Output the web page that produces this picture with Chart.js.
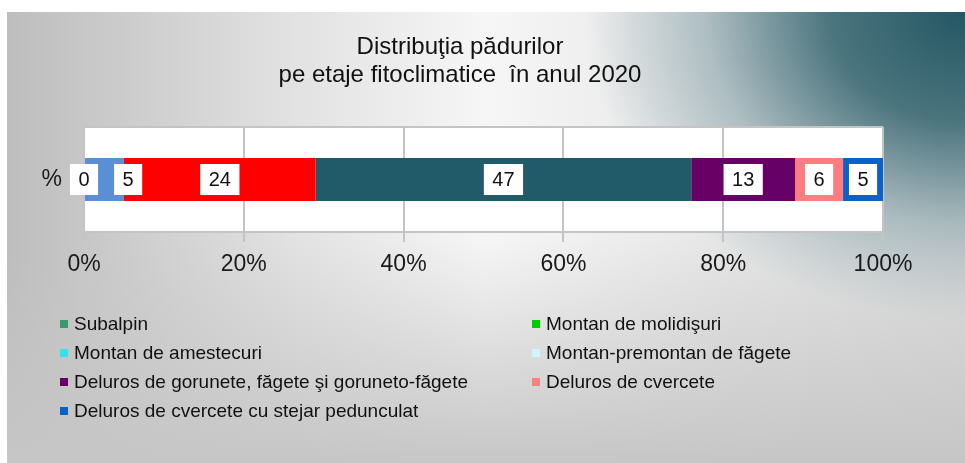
<!DOCTYPE html>
<html lang="ro">
<head>
<meta charset="utf-8">
<title>Distribuţia pădurilor</title>
<script src="https://cdn.jsdelivr.net/npm/chart.js@4.4.1/dist/chart.umd.min.js"></script>
<style>
  html, body { margin: 0; padding: 0; background: #fff; }
  #wrap { position: relative; width: 965px; height: 463px; overflow: hidden; }
  #bg {
    position: absolute; left: 7px; top: 12px; right: 0; bottom: 0;
    background:
      linear-gradient(to bottom, rgba(198,198,198,0) 0%, rgba(198,198,198,0) 50%, rgba(198,198,198,1) 100%),
      radial-gradient(ellipse 380px 310px at 100% 0%, rgba(36,87,100,1) 0%, rgba(66,110,120,0.95) 35%, rgba(135,162,170,0.6) 68%, rgba(235,235,235,0) 100%),
      linear-gradient(to right, #bdbdbd 0%, #e2e2e2 30%, #f6f6f6 50%, #e6e6e6 75%, #dcdcdc 100%);
  }
  #chart { position: absolute; left: 0; top: 0; }
  #legend {
    position: absolute; left: 60px; top: 309px;
    display: grid; grid-template-columns: 472px 400px; grid-auto-rows: 29px;
    font: 19px "Liberation Sans", Arial, sans-serif; color: #111;
  }
  .item { display: flex; align-items: center; white-space: nowrap; }
  .box { width: 8px; height: 8px; margin-right: 6px; flex: none; }
</style>
</head>
<body>
<div id="wrap">
  <div id="bg"></div>
  <canvas id="chart" width="965" height="463"></canvas>
  <div id="legend"></div>
</div>
<script>
// date (procente, anul 2020)
const categories = ['%'];
const seriesNames = [
  'Subalpin',
  'Montan de molidişuri',
  'Montan de amestecuri',
  'Montan-premontan de făgete',
  'Deluros de gorunete, făgete şi goruneto-făgete',
  'Deluros de cvercete',
  'Deluros de cvercete cu stejar pedunculat'
];
const values = [0, 5, 24, 47, 13, 6, 5];
const barColors = ['#3a9a6e', '#5a8fd8', '#ff0000', '#215a68', '#660066', '#ff7c80', '#0a62c8'];
const legendColors = ['#3a9a6e', '#00cc00', '#33e0f0', '#ccf6fa', '#660066', '#ff8080', '#0a62c8'];
const titleLines = ['Distribuţia pădurilor', 'pe etaje fitoclimatice  în anul 2020'];

const FONT = '"Liberation Sans", Arial, sans-serif';

// fundal alb pentru zona graficului
const plotBg = {
  id: 'plotBg',
  beforeDraw(chart) {
    const a = chart.chartArea;
    chart.ctx.save();
    chart.ctx.fillStyle = '#fff';
    chart.ctx.fillRect(a.left, a.top, a.right - a.left, a.bottom - a.top);
    chart.ctx.restore();
  }
};

// etichete albe pe segmente
const segLabels = {
  id: 'segLabels',
  afterDatasetsDraw(chart) {
    const ctx = chart.ctx;
    ctx.save();
    ctx.font = '20px ' + FONT;
    ctx.textAlign = 'center';
    ctx.textBaseline = 'middle';
    let prevRight = -Infinity;
    chart.data.datasets.forEach((ds, i) => {
      const bar = chart.getDatasetMeta(i).data[0];
      const text = String(ds.data[0]);
      const w = ctx.measureText(text).width + 17;
      const h = 31;
      let left = (bar.x + bar.base) / 2 - w / 2;
      if (left < prevRight) left = prevRight + 16;
      ctx.fillStyle = '#fff';
      ctx.fillRect(left, bar.y - h / 2, w, h);
      ctx.fillStyle = '#111';
      ctx.fillText(text, left + w / 2, bar.y + 1);
      prevRight = left + w;
    });
    ctx.restore();
  }
};

const datasets = seriesNames.map((name, i) => ({
  label: name,
  data: [values[i]],
  backgroundColor: barColors[i],
  borderWidth: 0,
  barPercentage: 0.41,
  categoryPercentage: 1
}));

new Chart(document.getElementById('chart'), {
  type: 'bar',
  data: { labels: categories, datasets: datasets },
  plugins: [plotBg, segLabels],
  options: {
    indexAxis: 'y',
    responsive: false,
    animation: false,
    layout: { padding: { left: 37, right: 82, top: 0, bottom: 171 } },
    plugins: {
      legend: { display: false },
      tooltip: { enabled: false },
      title: {
        display: true,
        text: titleLines,
        color: '#111',
        font: { family: FONT, size: 24, weight: 'normal', lineHeight: 1.167 },
        padding: { top: 33, bottom: 38 }
      }
    },
    scales: {
      x: {
        stacked: true,
        min: 0,
        max: 100,
        ticks: {
          stepSize: 20,
          callback: v => v + '%',
          color: '#1a1a1a',
          font: { family: FONT, size: 23 },
          padding: 9,
          maxRotation: 0
        },
        grid: { color: '#c4c4c4', lineWidth: 2, tickLength: 10 },
        border: { color: '#c4c4c4', width: 2 },
        afterFit: s => { s.height = 60; }
      },
      y: {
        stacked: true,
        ticks: { color: '#1a1a1a', font: { family: FONT, size: 23 }, padding: 22 },
        grid: { color: '#c4c4c4', lineWidth: 2, drawTicks: false },
        border: { display: false },
        afterFit: s => { s.width = 47; }
      }
    }
  }
});

// legenda pe doua coloane
const legend = document.getElementById('legend');
seriesNames.forEach((name, i) => {
  const item = document.createElement('div');
  item.className = 'item';
  item.innerHTML = `<span class="box" style="background:${legendColors[i]}"></span><span>${name}</span>`;
  legend.appendChild(item);
});
</script>
</body>
</html>
